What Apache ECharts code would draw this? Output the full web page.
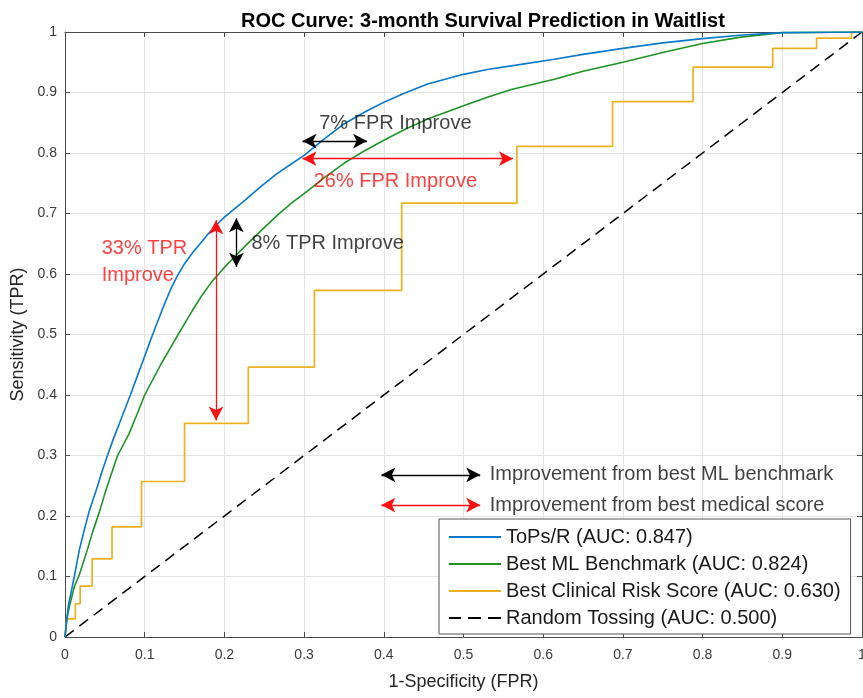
<!DOCTYPE html>
<html>
<head>
<meta charset="utf-8">
<script src="https://cdn.jsdelivr.net/npm/echarts@6/dist/echarts.min.js"></script>
<style>
html,body{margin:0;padding:0;background:#fff;}
#chart{width:863px;height:698px;}
</style>
</head>
<body>
<div id="chart"></div>
<script>
// ---- data ----
const seriesNames = ['ToPs/R (AUC: 0.847)', 'Best ML Benchmark (AUC: 0.824)', 'Best Clinical Risk Score (AUC: 0.630)', 'Random Tossing (AUC: 0.500)'];

const fprTops = [0, 0.004, 0.0117, 0.018, 0.024, 0.030, 0.036, 0.041, 0.046, 0.052, 0.060, 0.068, 0.075, 0.082, 0.089, 0.096, 0.103, 0.110, 0.117, 0.125, 0.133, 0.141, 0.150, 0.160, 0.170, 0.180, 0.190, 0.200, 0.213, 0.226, 0.246, 0.266, 0.283, 0.300, 0.325, 0.350, 0.375, 0.400, 0.428, 0.455, 0.500, 0.530, 0.560, 0.614, 0.650, 0.700, 0.750, 0.800, 0.850, 0.900, 1];
const tprTops = [0, 0.050, 0.100, 0.144, 0.176, 0.206, 0.230, 0.250, 0.272, 0.295, 0.325, 0.352, 0.376, 0.400, 0.425, 0.450, 0.475, 0.500, 0.524, 0.551, 0.576, 0.597, 0.617, 0.635, 0.651, 0.667, 0.681, 0.694, 0.708, 0.722, 0.745, 0.766, 0.781, 0.796, 0.823, 0.848, 0.867, 0.884, 0.900, 0.914, 0.930, 0.938, 0.944, 0.955, 0.963, 0.973, 0.982, 0.989, 0.995, 0.999, 1];

const fprML = [0, 0.002, 0.0054, 0.0117, 0.018, 0.028, 0.035, 0.043, 0.050, 0.0575, 0.066, 0.080, 0.090, 0.100, 0.110, 0.120, 0.131, 0.142, 0.151, 0.160, 0.172, 0.184, 0.198, 0.213, 0.232, 0.251, 0.268, 0.285, 0.300, 0.325, 0.350, 0.375, 0.400, 0.428, 0.455, 0.500, 0.530, 0.560, 0.614, 0.650, 0.700, 0.750, 0.800, 0.850, 0.900, 1];
const tprML = [0, 0.028, 0.050, 0.083, 0.103, 0.144, 0.175, 0.206, 0.237, 0.267, 0.300, 0.335, 0.367, 0.400, 0.425, 0.450, 0.475, 0.500, 0.520, 0.540, 0.565, 0.587, 0.608, 0.629, 0.654, 0.678, 0.699, 0.718, 0.733, 0.759, 0.783, 0.803, 0.821, 0.840, 0.856, 0.878, 0.892, 0.905, 0.922, 0.935, 0.950, 0.966, 0.981, 0.992, 0.999, 1];

const fprClin = [0, 0.002, 0.013, 0.019, 0.034, 0.059, 0.096, 0.150, 0.230, 0.313, 0.4225, 0.567, 0.687, 0.788, 0.888, 0.943, 0.987, 1];
const tprClin = [0, 0.030, 0.055, 0.084, 0.129, 0.182, 0.257, 0.353, 0.446, 0.573, 0.717, 0.811, 0.885, 0.942, 0.973, 0.990, 1, 1];

const fprRand = [0, 1];
const tprRand = [0, 1];

// annotation texts
const annTexts = ['7% FPR Improve', '26% FPR Improve', '8% TPR Improve', '33% TPR\nImprove', 'Improvement from best ML benchmark', 'Improvement from best medical score'];
const annFpr = [0.319, 0.312, 0.234, 0.046, 0.533, 0.533];
const annTpr = [0.848, 0.753, 0.651, 0.620, 0.268, 0.218];
const annIsRed = [false, true, false, true, false, false];

// arrows: start / end points in data space
const arrowStart = [[0.298, 0.8197], [0.298, 0.7907], [0.1895, 0.689], [0.215, 0.692], [0.397, 0.268], [0.397, 0.218]];
const arrowEnd = [[0.379, 0.8197], [0.562, 0.7907], [0.1895, 0.358], [0.215, 0.612], [0.521, 0.268], [0.521, 0.218]];
const arrowIsRed = [false, true, true, false, false, true];

// ---- chart ----
const zip = (a, b) => a.map((v, i) => [v, b[i]]);
const RED = '#ff1010', BLACK = '#000000';
const FONT = 'Liberation Sans';
const axisColor = '#4a4a4a';
const COLORS = ['#0a78cc', '#1f9426', '#EDB120', '#000000'];

function axisCommon(extra) {
  return Object.assign({
    type: 'value', min: 0, max: 1, interval: 0.1,
    axisLine: { show: true, onZero: false, lineStyle: { color: axisColor, width: 1 } },
    axisTick: { show: true, inside: true, length: 5, lineStyle: { color: axisColor } },
    splitLine: { show: false },
    axisLabel: { show: false }
  }, extra);
}

const solidIcon = 'path://M0,0H52V2H0Z';
const dashIcon = 'path://M0,0H12V2H0Z M19,0H32V2H19Z M39,0H52V2H39Z';

const chart = echarts.init(document.getElementById('chart'), null, { renderer: 'canvas' });
chart.setOption({
  animation: false,
  backgroundColor: '#ffffff',
  textStyle: { fontFamily: FONT },
  title: {
    text: 'ROC Curve: 3-month Survival Prediction in Waitlist',
    left: 478, top: 6, textAlign: 'center',
    textStyle: { fontFamily: FONT, fontSize: 20, fontWeight: 'bold', color: '#000' }
  },
  grid: { left: 65, right: 1, top: 32, bottom: 61, containLabel: false, outerBoundsMode: 'none' },
  xAxis: [
    axisCommon({
      position: 'bottom',
      splitLine: { show: true, lineStyle: { color: '#e4e4e4', width: 1 } },
      axisLabel: { show: true, color: '#3a3a3a', fontSize: 14, margin: 11, fontFamily: FONT },
      name: '1-Specificity (FPR)', nameLocation: 'middle', nameGap: 36,
      nameTextStyle: { fontSize: 18, color: '#262626', fontFamily: FONT }
    }),
    axisCommon({ position: 'top' })
  ],
  yAxis: [
    axisCommon({
      position: 'left',
      splitLine: { show: true, lineStyle: { color: '#e4e4e4', width: 1 } },
      axisLabel: { show: true, color: '#3a3a3a', fontSize: 14, margin: 8, fontFamily: FONT },
      name: 'Sensitivity (TPR)', nameLocation: 'middle', nameGap: 36,
      nameTextStyle: { fontSize: 18, color: '#262626', fontFamily: FONT }
    }),
    axisCommon({ position: 'right' })
  ],
  legend: {
    orient: 'vertical', left: 439, top: 519,
    data: seriesNames.map((n, i) => ({ name: n, icon: i === 3 ? dashIcon : solidIcon })),
    itemWidth: 52, itemHeight: 2, itemGap: 7,
    padding: [8, 10, 6, 10],
    backgroundColor: '#ffffff', borderColor: '#555', borderWidth: 1, borderRadius: 0,
    textStyle: { fontSize: 20, color: '#1a1a1a', fontFamily: FONT },
    selectedMode: false
  },
  series: [
    {
      name: seriesNames[0], type: 'line', data: zip(fprTops, tprTops), symbol: 'none',
      lineStyle: { color: COLORS[0], width: 1.6 }, itemStyle: { color: COLORS[0] }, z: 4
    },
    {
      name: seriesNames[1], type: 'line', data: zip(fprML, tprML), symbol: 'none',
      lineStyle: { color: COLORS[1], width: 1.6 }, itemStyle: { color: COLORS[1] }, z: 3
    },
    {
      name: seriesNames[2], type: 'line', step: 'end', data: zip(fprClin, tprClin), symbol: 'none',
      lineStyle: { color: COLORS[2], width: 1.7 }, itemStyle: { color: COLORS[2] }, z: 2
    },
    {
      name: seriesNames[3], type: 'line', data: zip(fprRand, tprRand), symbol: 'none',
      lineStyle: { color: COLORS[3], width: 1.5, type: [11, 7] }, itemStyle: { color: COLORS[3] }, z: 2
    },
    {
      name: 'annotations', type: 'scatter', symbolSize: 0, z: 6, silent: true,
      data: annTexts.map((t, i) => ({
        value: [annFpr[i], annTpr[i]],
        label: {
          show: true, formatter: t, position: [0, 0], align: 'left', verticalAlign: 'middle',
          fontSize: 20, lineHeight: 27, fontFamily: FONT,
          color: annIsRed[i] ? RED : '#111'
        }
      })),
      markLine: {
        silent: true, symbol: ['arrow', 'arrow'], symbolSize: [11, 14], precision: 4,
        label: { show: false },
        data: arrowStart.map((s, i) => [
          { coord: s, lineStyle: { color: arrowIsRed[i] ? RED : BLACK, width: 1.3, type: 'solid' }, itemStyle: { color: arrowIsRed[i] ? RED : BLACK } },
          { coord: arrowEnd[i] }
        ])
      }
    }
  ]
});
</script>
</body>
</html>
